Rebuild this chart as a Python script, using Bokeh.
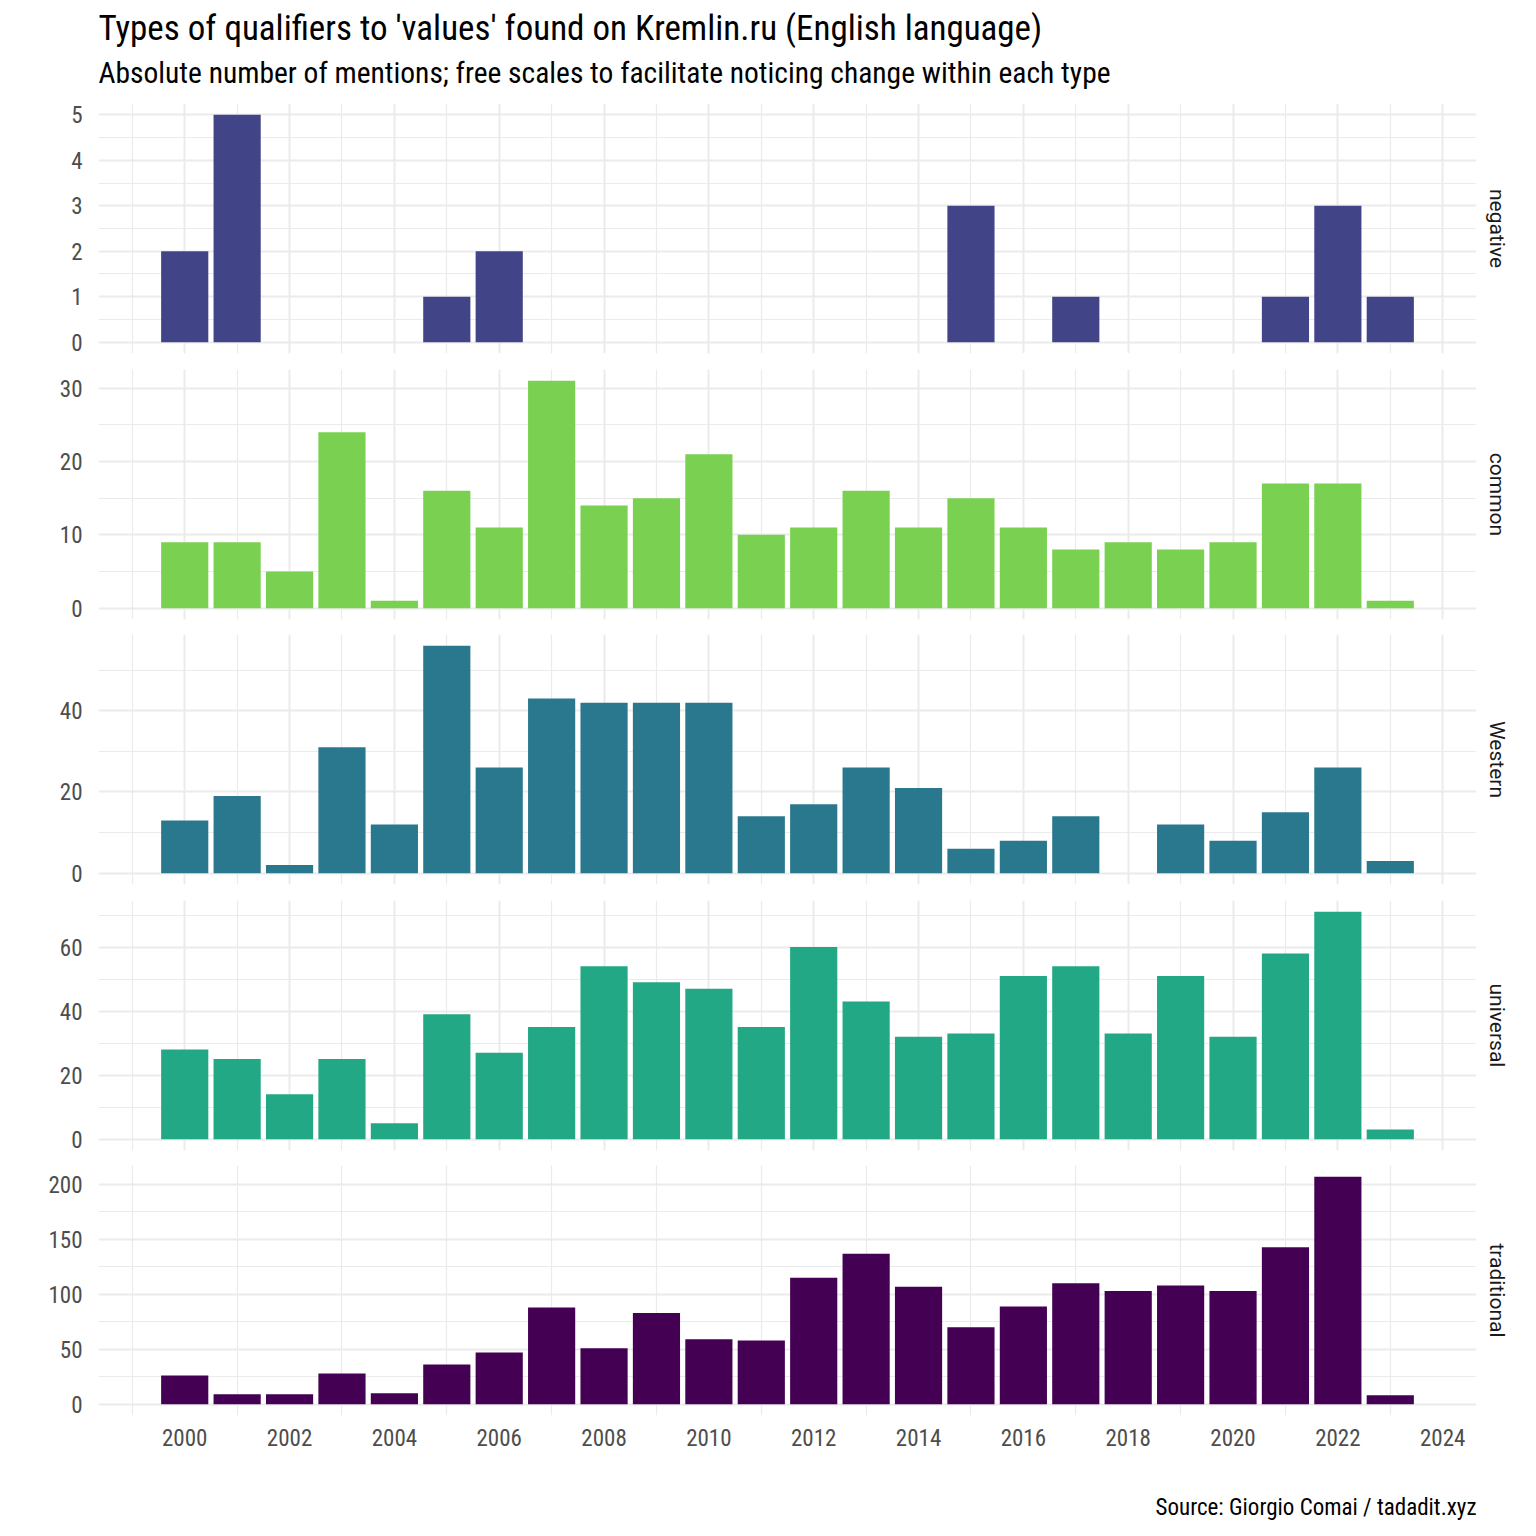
from bokeh.plotting import figure
from bokeh.models import Range1d, FixedTicker, Grid, Title
from bokeh.layouts import column
from bokeh.embed import file_html
from bokeh.resources import INLINE

years = list(range(2000, 2024))
negative = [2, 5, 0, 0, 0, 1, 2, 0, 0, 0, 0, 0, 0, 0, 0, 3, 0, 1, 0, 0, 0, 1, 3, 1]
common = [9, 9, 5, 24, 1, 16, 11, 31, 14, 15, 21, 10, 11, 16, 11, 15, 11, 8, 9, 8, 9, 17, 17, 1]
western = [13, 19, 2, 31, 12, 56, 26, 43, 42, 42, 42, 14, 17, 26, 21, 6, 8, 14, 0, 12, 8, 15, 26, 3]
universal = [28, 25, 14, 25, 5, 39, 27, 35, 54, 49, 47, 35, 60, 43, 32, 33, 51, 54, 33, 51, 32, 58, 71, 3]
traditional = [26, 9, 9, 28, 10, 36, 47, 88, 51, 83, 59, 58, 115, 137, 107, 70, 89, 110, 103, 108, 103, 143, 207, 8]

panel_names = ["negative", "common", "Western", "universal", "traditional"]
panel_values = [negative, common, western, universal, traditional]
panel_colors = ["#414487", "#7AD151", "#2A788E", "#22A884", "#440154"]
y_major = [[0, 1, 2, 3, 4, 5], [0, 10, 20, 30], [0, 20, 40], [0, 20, 40, 60], [0, 50, 100, 150, 200]]
y_minor = [[0.5, 1.5, 2.5, 3.5, 4.5], [5, 15, 25], [10, 30, 50], [10, 30, 50, 70], [25, 75, 125, 175]]
x_major = list(range(2000, 2025, 2))
x_minor = list(range(1999, 2024, 2))

title_text = "Types of qualifiers to 'values' found on Kremlin.ru (English language)"
subtitle_text = "Absolute number of mentions; free scales to facilitate noticing change within each type"
caption_text = "Source: Giorgio Comai / tadadit.xyz"

FONT = "Roboto Condensed, Liberation Sans Narrow, Roboto"
STRIP_FONT = "Roboto"
GRID = "#EBEBEB"

heights = [361, 265, 266, 265, 371]
borders_top = [103, 8, 8, 8, 8]
borders_bottom = [8, 7, 8, 7, 113]


def spacer(size):
    return Title(text=" ", text_font_size="2px", standoff=size,
                 text_color="#FFFFFF")


figs = []
n = len(panel_names)
for i in range(n):
    last = i == n - 1
    vals = panel_values[i]
    vmax = max(vals)
    p = figure(width=1528, height=heights[i],
               x_range=Range1d(1998.355, 2024.645),
               y_range=Range1d(-0.05 * vmax, 1.05 * vmax),
               output_backend="svg", toolbar_location=None, tools="",
               x_axis_location="below" if last else None,
               min_border_left=98, min_border_right=52,
               min_border_top=borders_top[i], min_border_bottom=borders_bottom[i])
    p.outline_line_color = None
    p.background_fill_color = "white"
    p.border_fill_color = "white"

    xg = Grid(dimension=0, ticker=FixedTicker(ticks=x_major, minor_ticks=x_minor),
              grid_line_color=GRID, grid_line_width=2,
              minor_grid_line_color=GRID, minor_grid_line_width=1.2)
    p.add_layout(xg)

    p.yaxis.ticker = FixedTicker(ticks=y_major[i], minor_ticks=y_minor[i])
    p.ygrid.grid_line_color = GRID
    p.ygrid.grid_line_width = 2
    p.ygrid.minor_grid_line_color = GRID
    p.ygrid.minor_grid_line_width = 1.2
    p.yaxis.axis_line_color = None
    p.yaxis.major_tick_line_color = None
    p.yaxis.minor_tick_line_color = None
    p.yaxis.major_label_text_font = FONT
    p.yaxis.major_label_text_font_size = "23px"
    p.yaxis.major_label_text_color = "#4D4D4D"
    p.yaxis.major_label_standoff = 10

    if last:
        p.xgrid.grid_line_color = None
        p.xaxis.ticker = FixedTicker(ticks=x_major, minor_ticks=x_minor)
        p.xaxis.axis_line_color = None
        p.xaxis.major_tick_line_color = None
        p.xaxis.minor_tick_line_color = None
        p.xaxis.major_label_text_font = FONT
        p.xaxis.major_label_text_font_size = "23px"
        p.xaxis.major_label_text_color = "#4D4D4D"
        p.xaxis.major_label_standoff = 7

    p.vbar(x=years, top=vals, bottom=0, width=0.9,
           fill_color=panel_colors[i], line_color=None)

    strip = Title(text=panel_names[i], align="center", text_font=STRIP_FONT,
                  text_font_size="21px", text_font_style="normal",
                  text_color="#1A1A1A", standoff=17)
    p.add_layout(strip, "right")

    if i == 0:
        p.add_layout(spacer(9.5), "above")
        p.add_layout(Title(text=subtitle_text, align="left", text_font=FONT,
                           text_font_size="29.5px", text_font_style="normal",
                           text_color="#000000", standoff=0), "above")
        p.title = Title(text=title_text, align="left", text_font=FONT,
                        text_font_size="35px", text_font_style="normal",
                        text_color="#000000", standoff=9)
    if last:
        p.add_layout(spacer(39), "below")
        p.add_layout(Title(text=caption_text, align="right", text_font=FONT,
                           text_font_size="23px", text_font_style="normal",
                           text_color="#000000", standoff=0), "below")
    figs.append(p)

layout = column(*figs, spacing=0)
open("out.html", "w").write(file_html(layout, INLINE))
